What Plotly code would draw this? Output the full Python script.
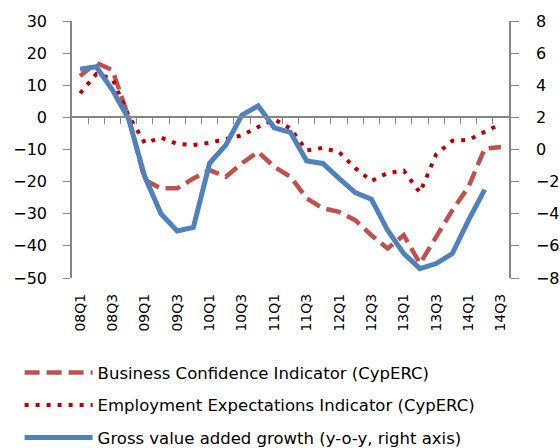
import plotly.graph_objects as go

quarters = ["08Q1","08Q2","08Q3","08Q4","09Q1","09Q2","09Q3","09Q4",
            "10Q1","10Q2","10Q3","10Q4","11Q1","11Q2","11Q3","11Q4",
            "12Q1","12Q2","12Q3","12Q4","13Q1","13Q2","13Q3","13Q4",
            "14Q1","14Q2","14Q3"]
tick_labels = ["08Q1","08Q3","09Q1","09Q3","10Q1","10Q3","11Q1","11Q3",
               "12Q1","12Q3","13Q1","13Q3","14Q1","14Q3"]

business_conf = [12.9, 17.0, 14.7, 0.0, -19.5, -22.1, -22.1, -19.0,
                 -16.4, -18.5, -14.3, -10.7, -15.4, -18.5, -25.2, -28.3,
                 -29.4, -32.0, -36.7, -40.8, -36.7, -45.5, -37.2, -28.9,
                 -21.6, -9.7, -9.2]
employment_exp = [7.5, 13.5, 12.0, 0.5, -8.0, -6.3, -8.3, -8.6,
                  -7.9, -6.7, -5.6, -3.0, -0.6, -3.5, -10.3, -9.5,
                  -10.8, -15.8, -19.8, -17.3, -16.6, -23.4, -11.5, -7.3,
                  -7.0, -4.5, -2.0]
gva_growth = [5.0, 5.15, 3.7, 1.9, -1.7, -4.0, -5.07, -4.85,
              -0.86, 0.27, 2.14, 2.72, 1.35, 1.06, -0.71, -0.87,
              -1.8, -2.68, -3.1, -5.03, -6.48, -7.42, -7.1, -6.48,
              -4.4, -2.5, None]

x = list(range(len(quarters)))
tick_idx = [quarters.index(t) for t in tick_labels]
boundaries = [i + 0.5 for i in range(len(quarters) - 1)]

font_family = "DejaVu Sans"
axis_col = "#868686"

fig = go.Figure()
fig.add_trace(go.Scatter(
    x=x, y=business_conf, mode="lines", name="Business Confidence Indicator (CypERC)",
    line=dict(color="#C0504D", width=4.5, dash="15px,7px"), legendgroup="a"))
fig.add_trace(go.Scatter(
    x=x, y=employment_exp, mode="lines", name="Employment Expectations Indicator (CypERC)",
    line=dict(color="#C00000", width=4, dash="4px,7px"), legendgroup="b"))
fig.add_trace(go.Scatter(
    x=x, y=gva_growth, mode="lines", name="Gross value added growth (y-o-y, right axis)",
    line=dict(color="#4F81BD", width=5), yaxis="y2", legendgroup="c"))
fig.add_trace(go.Scatter(
    x=[None], y=[None], xaxis="x2", yaxis="y", showlegend=False, hoverinfo="skip"))

fig.update_layout(
    width=560, height=448,
    margin=dict(l=72, r=51, t=21, b=170, autoexpand=False),
    paper_bgcolor="white", plot_bgcolor="white",
    font=dict(family=font_family, size=16, color="#000000"),
    showlegend=True,
    legend=dict(xref="container", yref="container",
                x=0.035, xanchor="left", y=0.207, yanchor="top",
                font=dict(size=16.5), tracegroupgap=8, itemwidth=68,
                bgcolor="rgba(0,0,0,0)"),
    xaxis=dict(range=[-0.5, len(quarters) - 0.5], tickmode="array",
               tickvals=tick_idx, ticktext=tick_labels, tickangle=-90,
               showline=False, ticks="", showgrid=False, zeroline=False,
               tickfont=dict(size=14, family=font_family),
               ticklabelstandoff=12),
    xaxis2=dict(range=[-0.5, len(quarters) - 0.5], overlaying="x",
                anchor="free", position=0.625, side="bottom",
                tickmode="array", tickvals=boundaries, showticklabels=False,
                ticks="outside", ticklen=6, tickcolor=axis_col,
                showline=True, linecolor=axis_col, linewidth=1.5,
                showgrid=False, zeroline=False),
    yaxis=dict(range=[-50, 30], dtick=10, tick0=0, showgrid=False,
               zeroline=False, showline=True, linecolor=axis_col, linewidth=1.5,
               ticks="outside", ticklen=7, tickcolor=axis_col,
               ticklabelstandoff=13),
    yaxis2=dict(range=[-8, 8], dtick=2, tick0=0, overlaying="y", side="right",
                anchor="x", showgrid=False, zeroline=False, showline=True,
                linecolor=axis_col, linewidth=1.5, ticks="outside", ticklen=8,
                tickcolor=axis_col, ticklabelstandoff=14),
)

fig.write_html("out.html", config={"displayModeBar": False},
               post_script="document.body.style.margin='0';document.body.style.overflow='hidden';")
